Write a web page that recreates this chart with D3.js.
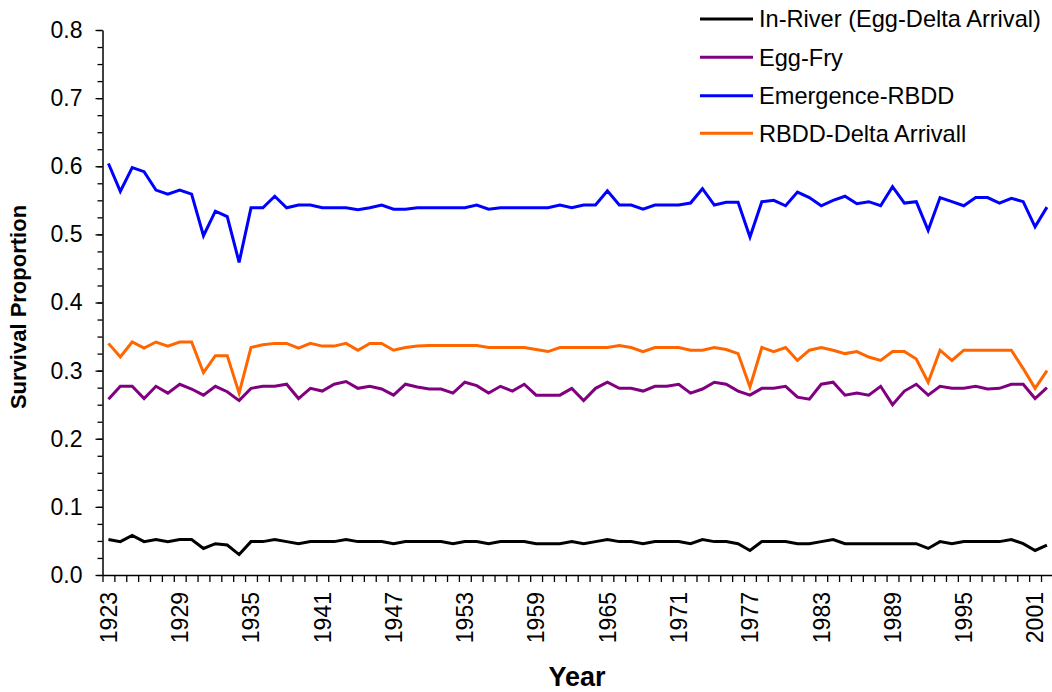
<!DOCTYPE html>
<html>
<head>
<meta charset="utf-8">
<script src="https://cdn.jsdelivr.net/npm/d3@7"></script>
<style>
  html, body { margin: 0; padding: 0; background: #fff; }
  svg { display: block; font-family: "Liberation Sans", Arial, sans-serif; }
</style>
</head>
<body>
<svg id="chart" width="1052" height="692"></svg>
<script>
const years = [1923,1924,1925,1926,1927,1928,1929,1930,1931,1932,
  1933,1934,1935,1936,1937,1938,1939,1940,1941,1942,
  1943,1944,1945,1946,1947,1948,1949,1950,1951,1952,
  1953,1954,1955,1956,1957,1958,1959,1960,1961,1962,
  1963,1964,1965,1966,1967,1968,1969,1970,1971,1972,
  1973,1974,1975,1976,1977,1978,1979,1980,1981,1982,
  1983,1984,1985,1986,1987,1988,1989,1990,1991,1992,
  1993,1994,1995,1996,1997,1998,1999,2000,2001,2002];

const tickLabels = [1923,1929,1935,1941,1947,1953,1959,1965,1971,1977,1983,1989,1995,2001];

const inRiver = [0.052,0.049,0.058,0.049,0.052,0.049,0.052,0.052,0.039,0.046,
  0.044,0.030,0.049,0.049,0.052,0.049,0.046,0.049,0.049,0.049,
  0.052,0.049,0.049,0.049,0.046,0.049,0.049,0.049,0.049,0.046,
  0.049,0.049,0.046,0.049,0.049,0.049,0.046,0.046,0.046,0.049,
  0.046,0.049,0.052,0.049,0.049,0.046,0.049,0.049,0.049,0.046,
  0.052,0.049,0.049,0.046,0.036,0.049,0.049,0.049,0.046,0.046,
  0.049,0.052,0.046,0.046,0.046,0.046,0.046,0.046,0.046,0.039,
  0.049,0.046,0.049,0.049,0.049,0.049,0.052,0.046,0.036,0.044];

const eggFry = [0.258,0.277,0.277,0.259,0.277,0.267,0.280,0.273,0.264,0.277,
  0.269,0.256,0.274,0.277,0.277,0.280,0.259,0.274,0.270,0.280,
  0.284,0.274,0.277,0.273,0.264,0.280,0.276,0.273,0.273,0.267,
  0.283,0.278,0.267,0.277,0.270,0.280,0.264,0.264,0.264,0.274,
  0.256,0.274,0.283,0.274,0.274,0.270,0.277,0.277,0.280,0.267,
  0.273,0.283,0.280,0.270,0.264,0.274,0.274,0.277,0.261,0.258,
  0.280,0.283,0.264,0.267,0.264,0.277,0.250,0.270,0.280,0.264,
  0.277,0.274,0.274,0.277,0.273,0.274,0.280,0.280,0.259,0.275];

const emergenceRBDD = [0.604,0.563,0.598,0.592,0.565,0.559,0.565,0.559,0.498,0.534,
  0.526,0.459,0.539,0.539,0.556,0.539,0.543,0.543,0.539,0.539,
  0.539,0.536,0.539,0.543,0.537,0.537,0.539,0.539,0.539,0.539,
  0.539,0.543,0.537,0.539,0.539,0.539,0.539,0.539,0.543,0.539,
  0.543,0.543,0.564,0.543,0.543,0.537,0.543,0.543,0.543,0.546,
  0.567,0.543,0.547,0.547,0.496,0.548,0.550,0.542,0.562,0.554,
  0.542,0.550,0.556,0.545,0.548,0.542,0.570,0.546,0.548,0.506,
  0.554,0.548,0.542,0.554,0.554,0.546,0.553,0.548,0.511,0.540];

const rbddDelta = [0.340,0.320,0.342,0.333,0.342,0.336,0.342,0.342,0.297,0.322,
  0.322,0.267,0.334,0.338,0.340,0.340,0.333,0.340,0.336,0.336,
  0.340,0.330,0.340,0.340,0.330,0.334,0.336,0.337,0.337,0.337,
  0.337,0.337,0.334,0.334,0.334,0.334,0.331,0.328,0.334,0.334,
  0.334,0.334,0.334,0.337,0.334,0.328,0.334,0.334,0.334,0.330,
  0.330,0.334,0.331,0.325,0.276,0.334,0.328,0.334,0.315,0.330,
  0.334,0.330,0.325,0.328,0.320,0.315,0.328,0.328,0.317,0.283,
  0.330,0.315,0.330,0.330,0.330,0.330,0.330,0.303,0.274,0.300];

const seriesNames = ["In-River (Egg-Delta Arrival)", "Egg-Fry", "Emergence-RBDD", "RBDD-Delta Arrivall"];
const seriesColors = ["#000000", "#800080", "#0000FF", "#FF6600"];
const seriesValues = [inRiver, eggFry, emergenceRBDD, rbddDelta];

const yMajorTicks = [0, 0.1, 0.2, 0.3, 0.4, 0.5, 0.6, 0.7, 0.8];

const svg = d3.select("#chart");
const plotLeft = 102.5, plotRight = 102.5 + 80 * 11.88, plotTop = 30, plotBottom = 575;

const x = d3.scaleBand().domain(years).range([plotLeft, plotRight]);
const xEdge = d3.scaleLinear().domain([0, years.length]).range([plotLeft, plotRight]);
const y = d3.scaleLinear().domain([0, 0.8]).range([plotBottom, plotTop]);

// Y axis minor ticks
svg.append("g")
  .attr("transform", `translate(${plotLeft},0)`)
  .call(d3.axisLeft(y).tickValues(d3.range(0, 33).map(i => i * 0.025)).tickSize(5).tickFormat(""))
  .call(g => g.select(".domain").remove())
  .call(g => g.selectAll("line").attr("stroke", "#000").attr("stroke-width", 1.3));

// Y axis major
svg.append("g")
  .attr("transform", `translate(${plotLeft},0)`)
  .call(d3.axisLeft(y).tickValues(yMajorTicks).tickSize(7).tickSizeOuter(0).tickPadding(13).tickFormat(d3.format(".1f")))
  .call(g => g.select(".domain").attr("stroke", "#000").attr("stroke-width", 1.5))
  .call(g => g.selectAll("line").attr("stroke", "#000").attr("stroke-width", 1.3))
  .call(g => g.selectAll("text").attr("font-size", 23).attr("fill", "#000").attr("font-family", "Liberation Sans, Arial, sans-serif"));

// X axis boundary ticks
svg.append("g")
  .attr("transform", `translate(0,${plotBottom})`)
  .call(d3.axisBottom(xEdge).tickValues(d3.range(0, years.length + 1)).tickSize(7).tickSizeOuter(0).tickFormat(""))
  .call(g => g.select(".domain").attr("stroke", "#000").attr("stroke-width", 1.5))
  .call(g => g.selectAll("line").attr("stroke", "#000").attr("stroke-width", 1.3));

// X axis labels
svg.append("g")
  .attr("transform", `translate(0,${plotBottom})`)
  .call(d3.axisBottom(x).tickValues(tickLabels).tickSize(0).tickFormat(d3.format("d")))
  .call(g => g.select(".domain").remove())
  .call(g => g.selectAll("text")
    .attr("font-size", 23).attr("fill", "#000")
    .attr("font-family", "Liberation Sans, Arial, sans-serif")
    .attr("transform", "rotate(-90)")
    .attr("x", -17).attr("y", 0).attr("dy", "0.36em")
    .style("text-anchor", "end"));

// Lines
const line = d3.line()
  .x((d, i) => x(years[i]) + x.bandwidth() / 2)
  .y(d => y(d));

seriesValues.forEach((vals, k) => {
  svg.append("path")
    .datum(vals)
    .attr("fill", "none")
    .attr("stroke", seriesColors[k])
    .attr("stroke-width", 3)
    .attr("stroke-linejoin", "miter")
    .attr("d", line);
});

// Axis titles
svg.append("text")
  .attr("transform", "translate(26,307) rotate(-90)")
  .attr("text-anchor", "middle")
  .attr("font-size", 22).attr("font-weight", "bold")
  .text("Survival Proportion");

svg.append("text")
  .attr("x", 577).attr("y", 686)
  .attr("text-anchor", "middle")
  .attr("font-size", 27).attr("font-weight", "bold")
  .text("Year");

// Legend
const legendY = [19, 57.3, 95.7, 133.3];
const legend = svg.append("g");
seriesNames.forEach((name, k) => {
  legend.append("line")
    .attr("x1", 700).attr("x2", 753)
    .attr("y1", legendY[k]).attr("y2", legendY[k])
    .attr("stroke", seriesColors[k]).attr("stroke-width", 3);
  legend.append("text")
    .attr("x", 759).attr("y", legendY[k]).attr("dy", "0.35em")
    .attr("font-size", 23.6)
    .text(name);
});
</script>
</body>
</html>
